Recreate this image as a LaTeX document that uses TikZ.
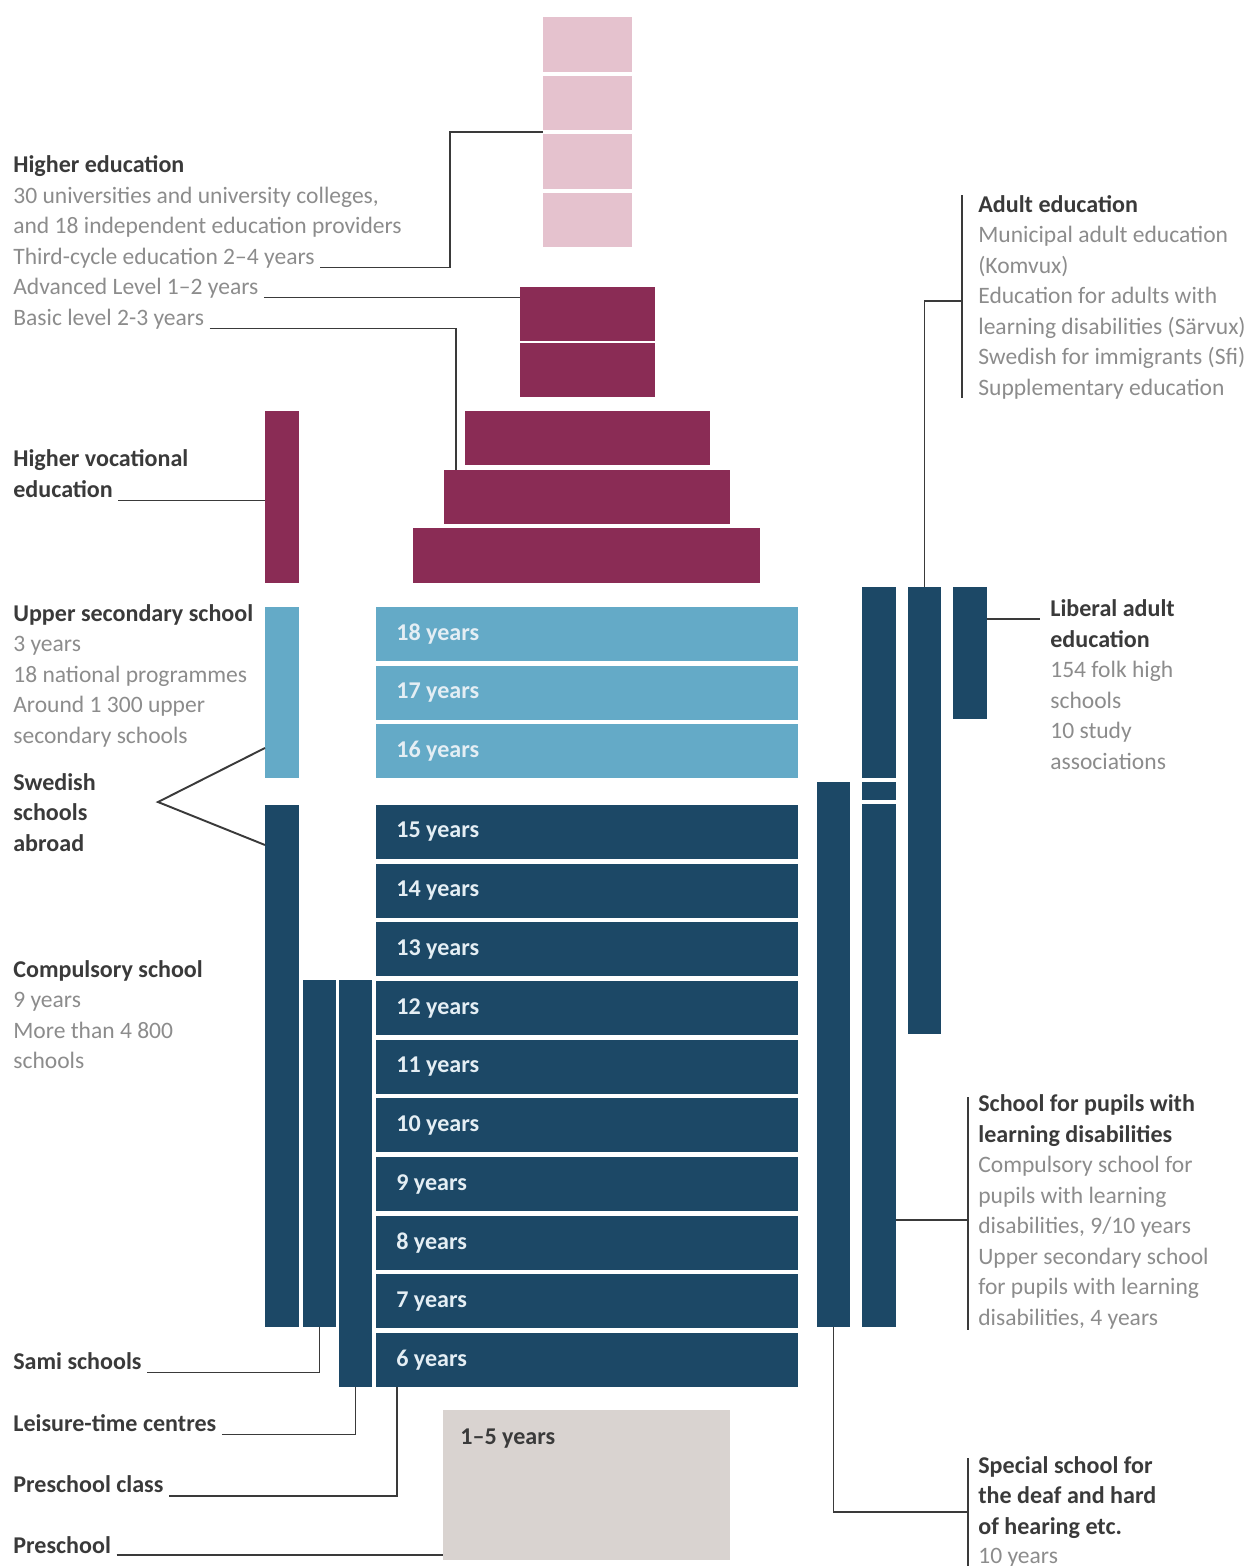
\documentclass[tikz,border=0pt]{standalone}
\usepackage{fontspec}
\setmainfont{Carlito}
\usepackage{tikz}
\usetikzlibrary{positioning}

\definecolor{pinkhe}{HTML}{E5C2CE}
\definecolor{plum}{HTML}{8A2C55}
\definecolor{skyblue}{HTML}{64AAC7}
\definecolor{darkblk}{HTML}{1C4866}
\definecolor{sand}{HTML}{D9D3D0}
\definecolor{headgrey}{HTML}{3A3A3A}
\definecolor{bodygrey}{HTML}{8C8C8C}
\definecolor{linegrey}{HTML}{3A3A3A}
\definecolor{yrtext}{HTML}{E4EEF4}

\tikzset{
  blk/.style={inner sep=0, outer sep=0, anchor=north west},
  headtxt/.style={anchor=base west, inner sep=0, text=headgrey, font=\fontsize{13.7}{16}\selectfont\bfseries},
  bodytxt/.style={anchor=base west, inner sep=0, text=bodygrey, font=\fontsize{13.4}{16}\selectfont},
  yrtxt/.style={anchor=west, inner sep=0, text=yrtext, font=\fontsize{13.7}{16}\selectfont\bfseries},
  conn/.style={draw=linegrey, line width=1.1pt},
}

\begin{document}
\begin{tikzpicture}[x=0.02cm, y=-0.02cm]
    % page in pixels of the original (y runs down)
    \useasboundingbox (0,0) rectangle (1245,1566);

    % Higher education, third-cycle column
    \foreach \i in {1,...,4}
        \node[blk, fill=pinkhe, minimum width=1.78cm, minimum height=1.1cm] (pink\i) at (543,{17+(\i-1)*58.5}) {};

    % Advanced and basic level
    \node[blk, fill=plum, minimum width=2.7cm, minimum height=1.08cm] (adv1) at (520,287) {};
    \node[blk, fill=plum, minimum width=2.7cm, minimum height=1.08cm] (adv2) at (520,343) {};
    \node[blk, fill=plum, minimum width=4.9cm, minimum height=1.08cm] (bas1) at (465,411) {};
    \node[blk, fill=plum, minimum width=5.72cm, minimum height=1.08cm] (bas2) at (444,470) {};
    \node[blk, fill=plum, minimum width=6.94cm, minimum height=1.1cm] (bas3) at (413,528) {};

    % Higher vocational education
    \node[blk, fill=plum, minimum width=0.68cm, minimum height=3.44cm] (hvbar) at (265,411) {};

    % Upper secondary school
    \node[blk, fill=skyblue, minimum width=0.68cm, minimum height=3.42cm] (usbar) at (265,607) {};
    \foreach \a [count=\i from 0] in {18,17,16} {
        \node[blk, fill=skyblue, minimum width=8.44cm, minimum height=1.08cm] (yr\a) at (376,{607+\i*58.5}) {};
        \node[yrtxt, right=0.4cm of yr\a.west] {\a\ years};
    }

    % Compulsory school, Sami schools, leisure-time centres
    \node[blk, fill=darkblk, minimum width=0.68cm, minimum height=10.44cm] (compbar) at (265,805) {};
    \node[blk, fill=darkblk, minimum width=0.66cm, minimum height=6.94cm] (samibar) at (303,980) {};
    \node[blk, fill=darkblk, minimum width=0.66cm, minimum height=8.14cm] (leisbar) at (339,980) {};
    \foreach \a [count=\i from 0] in {15,14,...,6} {
        \node[blk, fill=darkblk, minimum width=8.44cm, minimum height=1.08cm] (yr\a) at (376,{805+\i*58.67}) {};
        \node[yrtxt, right=0.4cm of yr\a.west] {\a\ years};
    }

    % Preschool
    \node[blk, fill=sand, minimum width=5.74cm, minimum height=3cm] (psbox) at (443,1410) {};
    \node[yrtxt, text=headgrey, below right=0.38cm and 0.34cm of psbox.north west] {1--5 years};

    % Right columns
    \node[blk, fill=darkblk, minimum width=0.66cm, minimum height=10.9cm] (spbar) at (817,782) {};
    \node[blk, fill=darkblk, minimum width=0.68cm, minimum height=3.82cm] (ldbar1) at (862,587) {};
    \node[blk, fill=darkblk, minimum width=0.68cm, minimum height=0.36cm] (ldbar2) at (862,782) {};
    \node[blk, fill=darkblk, minimum width=0.68cm, minimum height=10.46cm] (ldbar3) at (862,804) {};
    \node[blk, fill=darkblk, minimum width=0.66cm, minimum height=8.94cm] (adbar) at (908,587) {};
    \node[blk, fill=darkblk, minimum width=0.68cm, minimum height=2.64cm] (libbar) at (953,587) {};

    % Left texts
    \node[headtxt] (hehead) at (13,172) {Higher education};
    \node[bodytxt] at (13,203) {30 universities and university colleges,};
    \node[bodytxt] at (13,233) {and 18 independent education providers};
    \node[bodytxt] (thirdcyc) at (13,264) {Third-cycle education 2--4 years};
    \node[bodytxt] (advtxt) at (13,294) {Advanced Level 1--2 years};
    \node[bodytxt] (bastxt) at (13,325) {Basic level 2-3 years};

    \node[headtxt] at (13,466) {Higher vocational};
    \node[headtxt] (hvtxt) at (13,497) {education};

    \node[headtxt] at (13,621) {Upper secondary school};
    \foreach \t [count=\i] in {3 years, 18 national programmes, Around 1 300 upper, secondary schools}
        \node[bodytxt] at (13,621+\i*30.5) {\t};

    \foreach \t [count=\i from 0] in {Swedish, schools, abroad}
        \node[headtxt] at (13,790+\i*30.5) {\t};

    \node[headtxt] at (13,977) {Compulsory school};
    \foreach \t [count=\i] in {9 years, More than 4 800, schools}
        \node[bodytxt] at (13,977+\i*30.5) {\t};

    \node[headtxt] (samitxt) at (13,1369) {Sami schools};
    \node[headtxt] (leistxt) at (13,1431) {Leisure-time centres};
    \node[headtxt] (pcltxt) at (13,1492) {Preschool class};
    \node[headtxt] (pstxt) at (13,1553) {Preschool};

    % Right texts
    \node[headtxt] (adhead) at (978,212) {Adult education};
    \foreach \t [count=\i] in {Municipal adult education, (Komvux), Education for adults with,
                               learning disabilities (Särvux), Swedish for immigrants (Sfi), Supplementary education}
        \node[bodytxt] at (978,212+\i*30.5) {\t};

    \node[headtxt] (libhead) at (1050,616) {Liberal adult};
    \node[headtxt] at (1050,647) {education};
    \foreach \t [count=\i] in {154 folk high, schools, 10 study, associations}
        \node[bodytxt] at (1050,647+\i*30.5) {\t};

    \node[headtxt] at (978,1111) {School for pupils with};
    \node[headtxt] at (978,1142) {learning disabilities};
    \foreach \t [count=\i] in {Compulsory school for, pupils with learning, {disabilities, 9/10 years},
                               Upper secondary school, for pupils with learning, {disabilities, 4 years}}
        \node[bodytxt] at (978,1142+\i*30.5) {\t};

    \foreach \t [count=\i from 0] in {Special school for, the deaf and hard, of hearing etc.}
        \node[headtxt] at (978,1473+\i*30.5) {\t};
    \node[bodytxt] at (978,1563) {10 years};

    % Connectors
    \coordinate (hebend) at (450,132);
    \draw[conn] ([xshift=3pt,yshift=-2pt]thirdcyc.base east) -| (hebend) -- (hebend -| pink2.west);
    \draw[conn] ([xshift=3pt,yshift=-2pt]advtxt.base east) coordinate (advs) -- (advs -| adv1.west);
    \draw[conn] ([xshift=3pt,yshift=-2pt]bastxt.base east) -| ([xshift=0.24cm]bas2.north west);
    \draw[conn] ([xshift=3pt,yshift=-2pt]hvtxt.base east) coordinate (hvs) -- (hvs -| hvbar.west);

    \coordinate (abroadtip) at (158,802);
    \draw[conn] ([yshift=0.6cm]usbar.south west) -- (abroadtip) -- ([yshift=-0.8cm]compbar.north west);

    \draw[conn] ([xshift=3pt,yshift=-2pt]samitxt.base east) -| (samibar.south);
    \draw[conn] ([xshift=3pt,yshift=-2pt]leistxt.base east) -| (leisbar.south);
    \draw[conn] ([xshift=3pt,yshift=-2pt]pcltxt.base east) -| ([xshift=0.42cm]yr6.south west);
    \draw[conn] ([xshift=3pt,yshift=-1pt]pstxt.base east) coordinate (pss) -- (pss -| psbox.west);

    % brackets on the right
    \draw[conn] (962,195) -- (962,398);
    \coordinate (adbrk) at (962,301);
    \draw[conn] (adbar.north) |- (adbrk);

    \coordinate (libend) at (1040,619);
    \draw[conn] (libend -| libbar.east) -- (libend);

    \draw[conn] (968,1097) -- (968,1330);
    \coordinate (ldbrk) at (968,1220);
    \draw[conn] (ldbrk -| ldbar3.east) -- (ldbrk);

    \draw[conn] (968,1458) -- (968,1566);
    \coordinate (spbrk) at (968,1512);
    \draw[conn] (spbar.south) |- (spbrk);
\end{tikzpicture}
\end{document}
